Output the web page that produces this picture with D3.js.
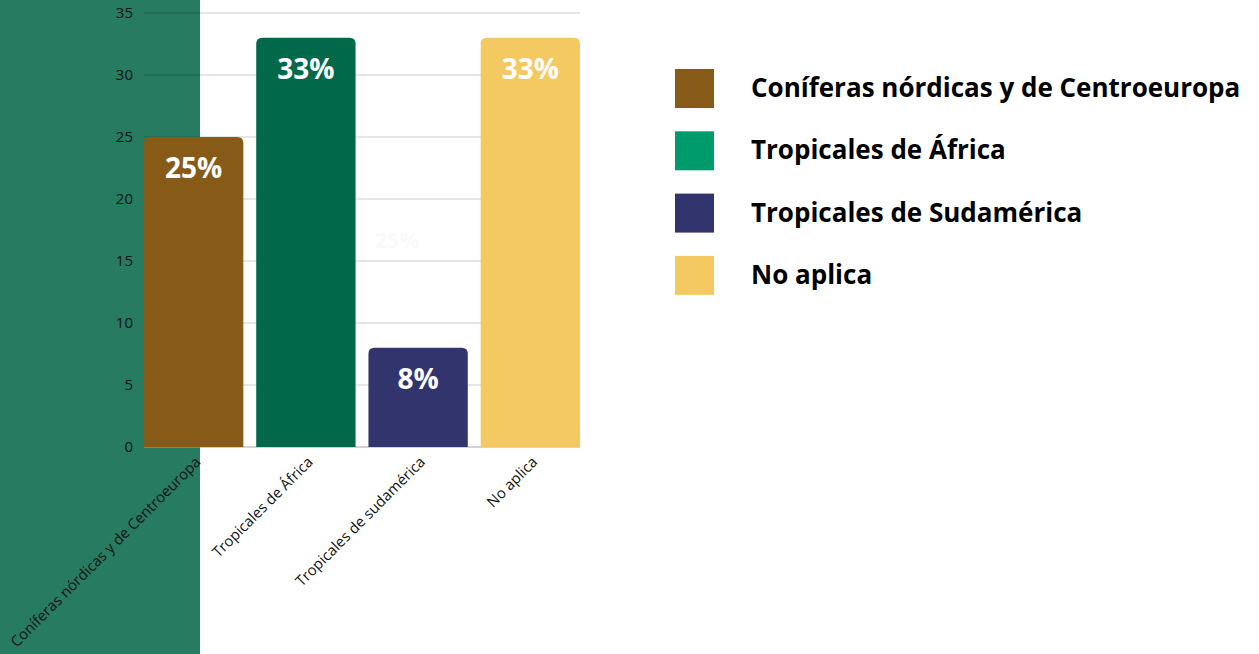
<!DOCTYPE html>
<html>
<head>
<meta charset="utf-8">
<script src="https://cdn.jsdelivr.net/npm/d3@7"></script>
<style>
  body { margin: 0; background: #fff; }
  svg { display: block; }
</style>
</head>
<body>
<div id="chart"></div>
<script>
// data
var categories = ["Coníferas nórdicas y de Centroeuropa", "Tropicales de África", "Tropicales de sudamérica", "No aplica"];
var legendNames = ["Coníferas nórdicas y de Centroeuropa", "Tropicales de África", "Tropicales de Sudamérica", "No aplica"];
var values = [25, 33, 8, 33];
var labels = ["25%", "33%", "8%", "33%"];
var yTicks = [0, 5, 10, 15, 20, 25, 30, 35];

var barColors = ["#875a18", "#02684a", "#32346d", "#f5c962"];
var legendColors = ["#875a18", "#009b6d", "#32346d", "#f5c962"];

var W = 1259, H = 654;
var font = "'Open Sans', sans-serif";

var svg = d3.select("#chart").append("svg")
    .attr("width", W)
    .attr("height", H);

// green band on the left
svg.append("rect")
    .attr("x", 0).attr("y", 0)
    .attr("width", 200).attr("height", H)
    .attr("fill", "#277b61");

var x = d3.scaleBand()
    .domain(categories)
    .range([144, 580])
    .paddingInner(0.115)
    .paddingOuter(0);

var y = d3.scaleLinear()
    .domain([0, 35])
    .range([447, 13]);

// gridlines
svg.append("g")
    .selectAll("line")
    .data(yTicks.filter(function (d) { return d > 0; }))
    .enter().append("line")
    .attr("x1", 144).attr("x2", 580)
    .attr("y1", function (d) { return y(d); })
    .attr("y2", function (d) { return y(d); })
    .attr("stroke", "rgba(0,0,0,0.2)")
    .attr("stroke-width", 1);

// baseline
svg.append("line")
    .attr("x1", 144).attr("x2", 580)
    .attr("y1", y(0)).attr("y2", y(0))
    .attr("stroke", "#a6a6a6")
    .attr("stroke-width", 1);

// y axis
var yAxis = svg.append("g")
    .attr("transform", "translate(144,0)")
    .call(d3.axisLeft(y).tickValues(yTicks).tickSize(0).tickPadding(11));
yAxis.select(".domain").remove();
yAxis.selectAll("text")
    .style("font-family", font)
    .style("font-size", "15px")
    .style("fill", "#111");

// bars with rounded top corners
function barPath(d, i) {
    var x0 = x(categories[i]), w = x.bandwidth();
    var top = y(d), bottom = y(0), r = 6;
    return "M" + x0 + "," + bottom +
        "V" + (top + r) +
        "Q" + x0 + "," + top + " " + (x0 + r) + "," + top +
        "H" + (x0 + w - r) +
        "Q" + (x0 + w) + "," + top + " " + (x0 + w) + "," + (top + r) +
        "V" + bottom + "Z";
}

svg.append("g")
    .selectAll("path")
    .data(values)
    .enter().append("path")
    .attr("d", barPath)
    .attr("fill", function (d, i) { return barColors[i]; });

// value labels
svg.append("g")
    .selectAll("text")
    .data(values)
    .enter().append("text")
    .attr("x", function (d, i) { return x(categories[i]) + x.bandwidth() / 2; })
    .attr("y", function (d) { return y(d) + 41; })
    .attr("text-anchor", "middle")
    .style("font-family", font)
    .style("font-weight", "bold")
    .style("font-size", "28px")
    .style("fill", "#fff")
    .text(function (d, i) { return labels[i]; });

// leftover faint label in the original
svg.append("text")
    .attr("x", 397).attr("y", 248)
    .attr("text-anchor", "middle")
    .style("font-family", font)
    .style("font-weight", "bold")
    .style("font-size", "22px")
    .style("fill", "#fafafa")
    .text("25%");

// x axis labels, rotated
svg.append("g")
    .selectAll("text")
    .data(categories)
    .enter().append("text")
    .attr("transform", function (d) {
        var cx = x(d) + x.bandwidth() / 2 + 8;
        return "translate(" + cx + ",463) rotate(-45)";
    })
    .attr("text-anchor", "end")
    .style("font-family", font)
    .style("font-size", "14.8px")
    .style("fill", "#111")
    .text(function (d) { return d; });

// legend
var legend = svg.append("g")
    .selectAll("g")
    .data(legendNames)
    .enter().append("g")
    .attr("transform", function (d, i) { return "translate(675," + (69 + i * 62.3) + ")"; });

legend.append("rect")
    .attr("width", 39).attr("height", 39)
    .attr("fill", function (d, i) { return legendColors[i]; });

legend.append("text")
    .attr("x", 76).attr("y", 28)
    .style("font-family", font)
    .style("font-weight", "bold")
    .style("font-size", "26px")
    .style("fill", "#000")
    .text(function (d) { return d; });
</script>
</body>
</html>
